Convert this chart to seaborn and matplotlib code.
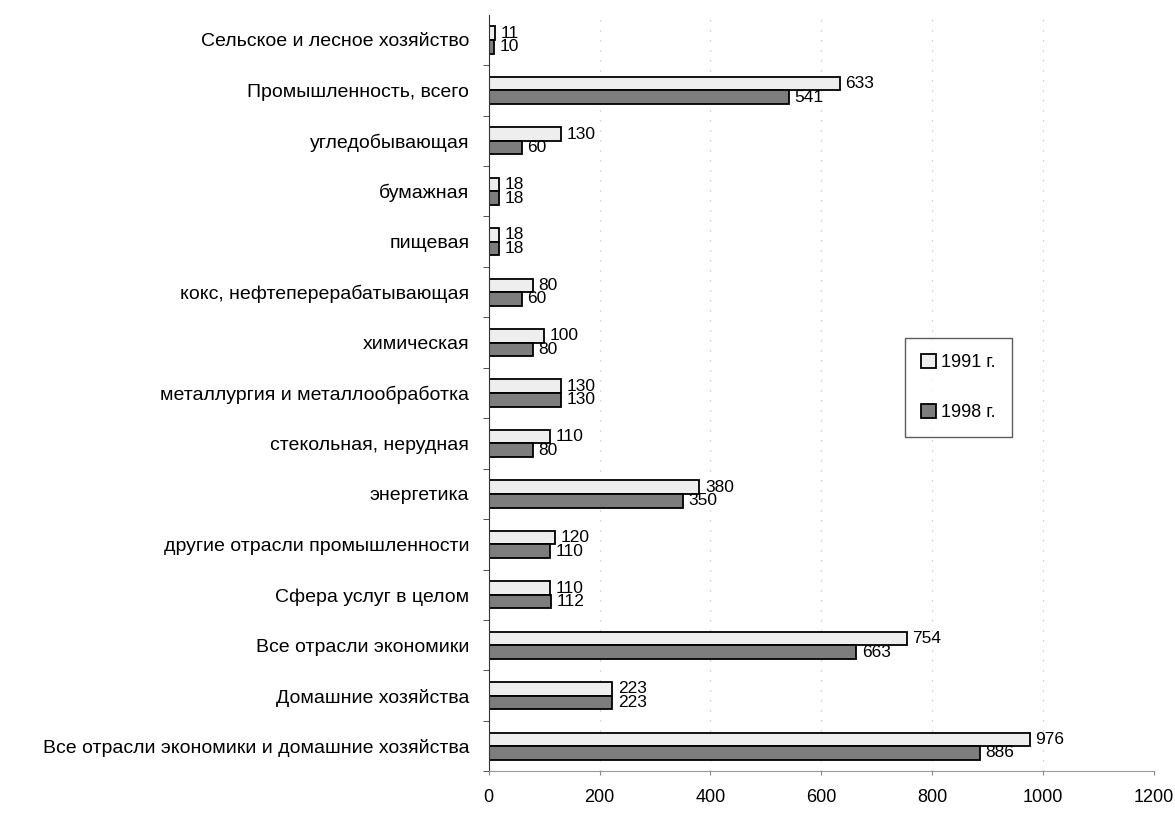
import numpy as np
import pandas as pd
import seaborn as sns
import matplotlib.pyplot as plt

# Категории сверху вниз
otrasli = [
    "Сельское и лесное хозяйство",
    "Промышленность, всего",
    "угледобывающая",
    "бумажная",
    "пищевая",
    "кокс, нефтеперерабатывающая",
    "химическая",
    "металлургия и металлообработка",
    "стекольная, нерудная",
    "энергетика",
    "другие отрасли промышленности",
    "Сфера услуг в целом",
    "Все отрасли экономики",
    "Домашние хозяйства",
    "Все отрасли экономики и домашние хозяйства",
]
god_1991 = [11, 633, 130, 18, 18, 80, 100, 130, 110, 380, 120, 110, 754, 223, 976]
god_1998 = [10, 541, 60, 18, 18, 60, 80, 130, 80, 350, 110, 112, 663, 223, 886]
goda = ["1991 г.", "1998 г."]
x_ticks = [0, 200, 400, 600, 800, 1000, 1200]

df = pd.DataFrame({
    "otrasl": otrasli * 2,
    "znach": god_1991 + god_1998,
    "god": [goda[0]] * len(otrasli) + [goda[1]] * len(otrasli),
})

sns.set_style("white")
plt.rcParams["font.family"] = ["Liberation Sans", "DejaVu Sans"]

fig, ax = plt.subplots(figsize=(11.75, 8.18), dpi=100)
fig.subplots_adjust(left=0.416, right=0.982, top=0.982, bottom=0.057)

sns.barplot(data=df, y="otrasl", x="znach", hue="god", orient="h",
            palette=["#eeeeee", "#7d7d7d"], edgecolor="black", linewidth=1.3,
            width=0.54, ax=ax, order=otrasli, hue_order=goda)

# подписи значений
for cont in ax.containers:
    ax.bar_label(cont, padding=4, fontsize=12.5, color="black")

ax.set_xlim(0, 1200)
ax.set_xticks(x_ticks)
ax.set_xticklabels([str(t) for t in x_ticks], fontsize=13)
# засечки между категориями, как в Excel
ax.set_yticks(np.arange(len(otrasli)) + 0.5, minor=True)
ax.tick_params(axis="y", which="major", labelsize=14, length=0, pad=14,
               labelcolor="black")
ax.tick_params(axis="y", which="minor", length=4, left=True, color="#333333")
ax.tick_params(axis="x", length=3, bottom=True, pad=10, color="#888888",
               labelcolor="black")
ax.set_xlabel("")
ax.set_ylabel("")

# редкие пунктирные линии сетки
for t in x_ticks[1:]:
    ax.axvline(t, color="#c4c4c4", linestyle=(0, (1, 7)), linewidth=0.9, zorder=0)

for s in ["top", "right"]:
    ax.spines[s].set_visible(False)
ax.spines["left"].set_color("#333333")
ax.spines["bottom"].set_color("#999999")

leg = ax.legend(loc="upper left", bbox_to_anchor=(0.626, 0.573), fontsize=13,
                frameon=True, fancybox=False, edgecolor="#333333",
                labelspacing=1.8, handlelength=0.8, handleheight=0.8,
                handletextpad=0.3, borderpad=0.9, borderaxespad=0)
leg.get_frame().set_linewidth(1.0)
for txt in leg.get_texts():
    txt.set_color("black")

fig.savefig("out.png", dpi=100, facecolor="white")
